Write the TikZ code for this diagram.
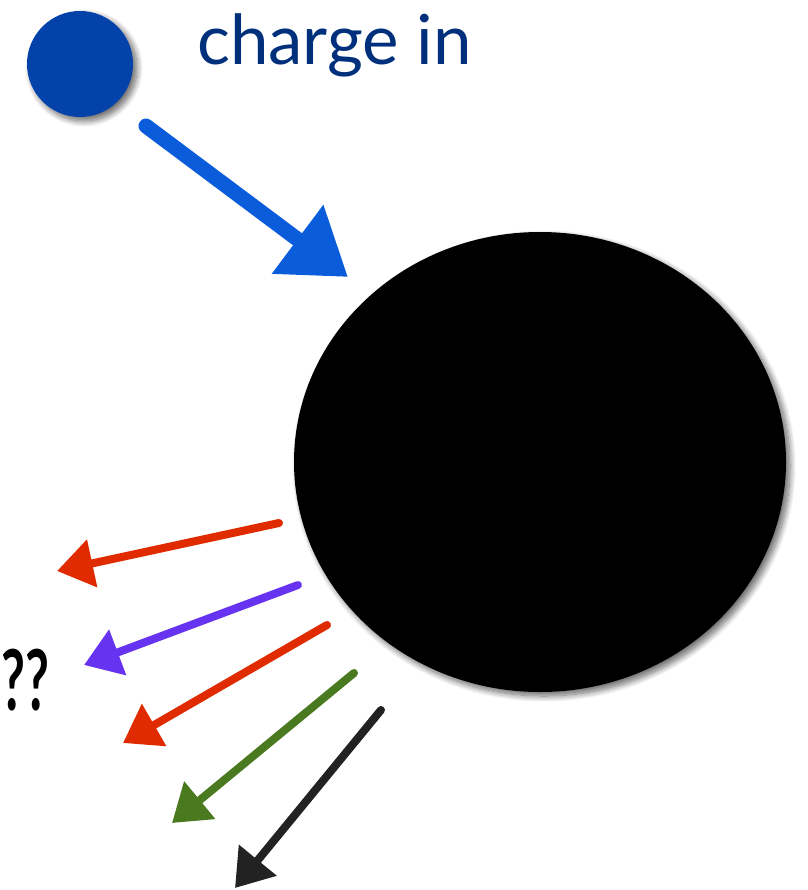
\documentclass[tikz,border=0pt]{standalone}
\usepackage{fontspec}
\setmainfont{Lato}
\usetikzlibrary{arrows.meta,shapes.geometric,shadows.blur}
\definecolor{chargeblue}{HTML}{0342A8}
\definecolor{textblue}{HTML}{00307C}
\definecolor{inblue}{HTML}{0A5CDB}
\definecolor{rayred}{HTML}{E02A00}
\definecolor{raypurple}{HTML}{6633F0}
\definecolor{raygreen}{HTML}{4A7A20}
\definecolor{rayblack}{HTML}{222222}
\begin{document}
\begin{tikzpicture}[x=1pt,y=-1pt,
  shad/.style={blur shadow={shadow xshift=4pt, shadow yshift=-4pt, shadow blur radius=6pt, shadow blur steps=12, shadow opacity=60}},
  ray/.style={line width=8pt, line cap=round, -{Triangle[length=36pt,width=47pt]}},
  inray/.style={line width=15pt, line cap=round, -{Triangle[length=63pt,width=82pt]}},
  lbl/.style={inner sep=0pt, font=\fontsize{69}{84}\selectfont}]
\useasboundingbox (0,0) rectangle (807,890);
\node[ellipse, fill=black, minimum width=492pt, minimum height=460pt, inner sep=0pt, shad] (bh) at (540,462) {};
\node[circle, fill=chargeblue, minimum size=106pt, inner sep=0pt, shad] (q) at (80,64) {};
\node[lbl, text=textblue, anchor=base west] (lab) at (197,65) {charge in};
\node[inner sep=0pt, font=\fontsize{84}{90}\selectfont\bfseries, text=black, anchor=base west, xscale=0.62] (qq) at (1,710) {??};
\coordinate (t0) at (146,126); \coordinate (h0) at (348,277);
\coordinate (t1) at (279,523); \coordinate (h1) at (57,571);
\coordinate (t2) at (298,585); \coordinate (h2) at (84,665);
\coordinate (t3) at (327,625); \coordinate (h3) at (123,743);
\coordinate (t4) at (354,673); \coordinate (h4) at (172,823);
\coordinate (t5) at (381,710); \coordinate (h5) at (235,888);
\draw[inray, draw=inblue, fill=inblue] (t0) -- (h0);
\draw[ray, draw=rayred, fill=rayred] (t1) -- (h1);
\draw[ray, draw=raypurple, fill=raypurple] (t2) -- (h2);
\draw[ray, draw=rayred, fill=rayred] (t3) -- (h3);
\draw[ray, draw=raygreen, fill=raygreen] (t4) -- (h4);
\draw[ray, draw=rayblack, fill=rayblack] (t5) -- (h5);
\end{tikzpicture}
\end{document}
